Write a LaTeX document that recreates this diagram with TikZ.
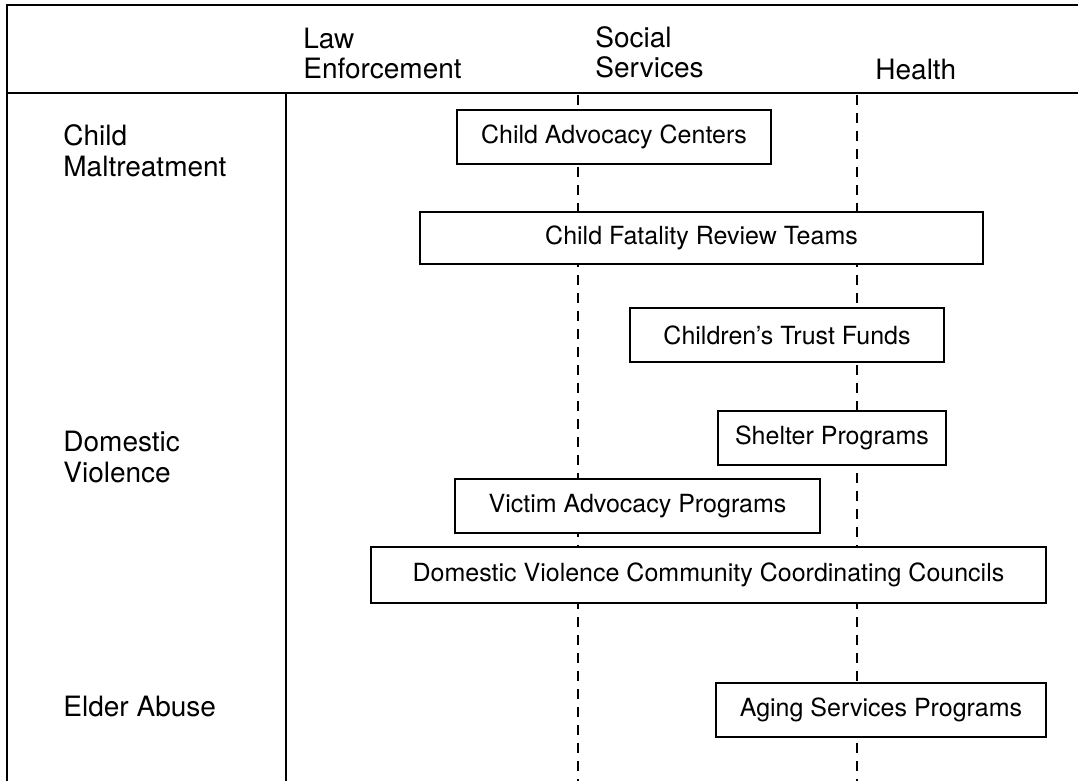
\documentclass[tikz,border=0pt]{standalone}
\usepackage{fontspec}
\setmainfont{TeX Gyre Heros}
\usetikzlibrary{calc}

\begin{document}
\begin{tikzpicture}[x=0.5pt, y=-0.5pt,
        grid line/.style={line width=1pt},
        column line/.style={line width=0.9pt, dash pattern=on 5pt off 4pt},
        program/.style={draw, line width=1.4pt, fill=white, minimum height=27pt, inner sep=0pt, font=\fontsize{12.5}{14}\selectfont},
        head label/.style={anchor=west, align=left, inner sep=0pt, font=\fontsize{14}{15}\selectfont},
        row label/.style={anchor=west, align=left, inner sep=0pt, font=\fontsize{14}{15.5}\selectfont}
    ]
    \useasboundingbox (0,0) rectangle (1078,781);
    \coordinate (tl) at (7,5);
    \coordinate (tr) at (1078,5);
    \coordinate (bl) at (7,781);
    \coordinate (hl) at (7,93);
    \coordinate (hr) at (1078,93);
    \coordinate (st) at (286,93);
    \coordinate (sb) at (286,781);

    % table frame
    \draw[grid line] (bl) -- (tl) -- (tr);
    \draw[grid line] (hl) -- (hr);
    \draw[grid line] (st) -- (sb);

    % column separators
    \foreach \x in {578,857} {
        \draw[column line] (\x,95) -- (\x,781);
    }

    % column heads
    \node[head label] (law) at (303,54) {Law\\Enforcement};
    \node[head label] (social) at (595,52) {Social\\Services};
    \node[head label] (health) at (875,70) {Health};

    % row heads
    \node[row label] (child) at (63,151) {Child\\Maltreatment};
    \node[row label] (domestic) at (63,457) {Domestic\\Violence};
    \node[row label] (elder) at (63,707) {Elder Abuse};

    % programs
    \node[program, minimum width=157pt] (cac) at (614,137) {Child Advocacy Centers};
    \node[program, minimum width=281.5pt, minimum height=26pt] (cfrt) at (701.5,238) {Child Fatality Review Teams};
    \node[program, minimum width=157pt] (ctf) at (787,335) {Children's Trust Funds};
    \node[program, minimum width=114pt] (shelter) at (832,438) {Shelter Programs};
    \node[program, minimum width=182.5pt] (victim) at (637.5,506) {Victim Advocacy Programs};
    \node[program, minimum width=337.5pt, minimum height=28pt] (dvccc) at (708.5,575) {Domestic Violence Community Coordinating Councils};
    \node[program, minimum width=165pt] (aging) at (881,710) {Aging Services Programs};
\end{tikzpicture}
\end{document}
